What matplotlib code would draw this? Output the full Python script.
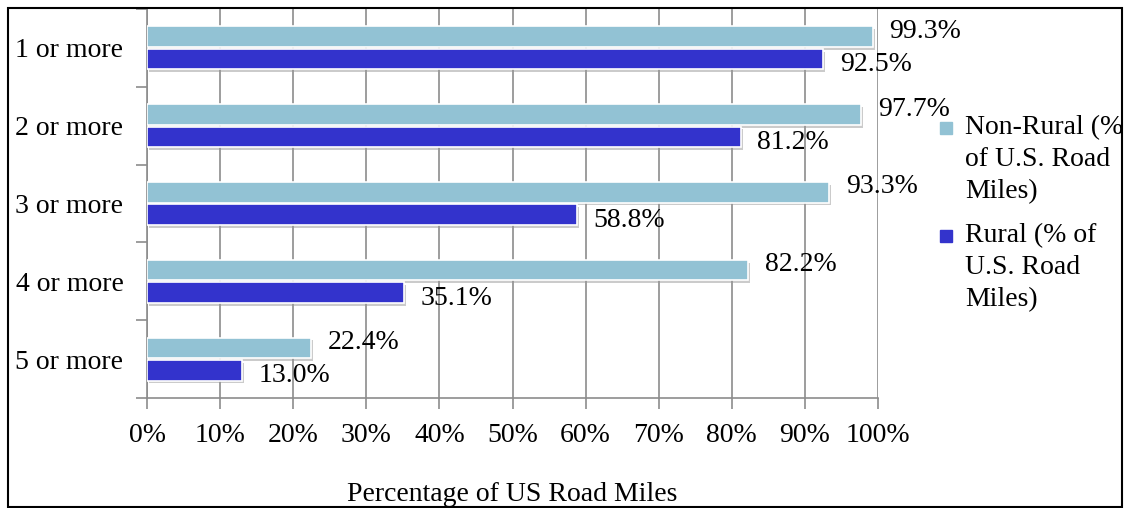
import numpy as np
import matplotlib.pyplot as plt
from matplotlib.patches import Rectangle
import matplotlib.patheffects as pe

plt.rcParams['font.family'] = ['Liberation Serif', 'DejaVu Serif']

# Data
categories = ["1 or more", "2 or more", "3 or more", "4 or more", "5 or more"]
non_rural = [99.3, 97.7, 93.3, 82.2, 22.4]
rural = [92.5, 81.2, 58.8, 35.1, 13.0]
x_ticks = [0, 10, 20, 30, 40, 50, 60, 70, 80, 90, 100]

c_nonrural = "#92c2d4"
c_rural = "#3333cc"
grid_c = "#8c8c8c"

fig = plt.figure(figsize=(11.26, 5.08), dpi=100)
ax = fig.add_axes([147 / 1126, 110 / 508, 731 / 1126, 389 / 508])

y = np.arange(len(categories))
h = 0.265
shadow = [pe.SimplePatchShadow(offset=(1.5, -2), shadow_rgbFace="#999999", alpha=0.5), pe.Normal()]
b1 = ax.barh(y - 0.143, non_rural, height=h, color=c_nonrural, edgecolor="white",
             linewidth=1.2, zorder=3, path_effects=shadow)
b2 = ax.barh(y + 0.145, rural, height=h, color=c_rural, edgecolor="white",
             linewidth=1.2, zorder=3, path_effects=shadow)

for v, yy in zip(non_rural, y - 0.143):
    ax.annotate(f"{v:.1f}%", (v, yy), xytext=(12, 4), textcoords="offset points",
                ha="left", va="center", fontsize=20, zorder=5)
for v, yy in zip(rural, y + 0.145):
    ax.annotate(f"{v:.1f}%", (v, yy), xytext=(12, -4), textcoords="offset points",
                ha="left", va="center", fontsize=20, zorder=5)

ax.set_xlim(0, 100)
ax.set_ylim(len(categories) - 0.5, -0.5)
ax.set_xticks(x_ticks)
ax.set_xticklabels([f"{t}%" for t in x_ticks], fontsize=20)
ax.tick_params(axis="x", length=8, width=1.2, color=grid_c, pad=10)

# y ticks at group boundaries, labels at centers
ax.set_yticks(np.arange(len(categories) + 1) - 0.5)
ax.set_yticklabels([])
ax.tick_params(axis="y", which="major", length=8, width=1.2, color=grid_c)
ax.set_yticks(y, minor=True)
ax.set_yticklabels(categories, minor=True, fontsize=20)
ax.tick_params(axis="y", which="minor", length=0, pad=17)

ax.grid(axis="x", color=grid_c, linewidth=1.2, zorder=0)
ax.set_axisbelow(True)
for s in ["top", "right"]:
    ax.spines[s].set_visible(False)
for s in ["left", "bottom"]:
    ax.spines[s].set_color(grid_c)
    ax.spines[s].set_linewidth(1.2)

# legend drawn by hand so the marker sits at the first text line
def legend_item(ytop, color, lines):
    fig.patches.append(Rectangle((940 / 1126, 1 - (ytop + 6) / 508), 12 / 1126, 12 / 508,
                                 transform=fig.transFigure, color=color))
    for i, line in enumerate(lines):
        fig.text(965 / 1126, 1 - (ytop + 32 * i) / 508, line, fontsize=20,
                 ha="left", va="center")

legend_item(128, c_nonrural, ["Non-Rural (%", "of U.S. Road", "Miles)"])
legend_item(236, c_rural, ["Rural (% of", "U.S. Road", "Miles)"])

fig.text(512 / 1126, 7 / 508, "Percentage of US Road Miles", fontsize=20,
         ha="center", va="baseline")

# outer border
fig.patches.append(Rectangle((8 / 1126, 1 / 508), 1114 / 1126, 499 / 508,
                             transform=fig.transFigure, fill=False,
                             edgecolor="black", linewidth=1.5))

fig.savefig("out.png", dpi=100)
